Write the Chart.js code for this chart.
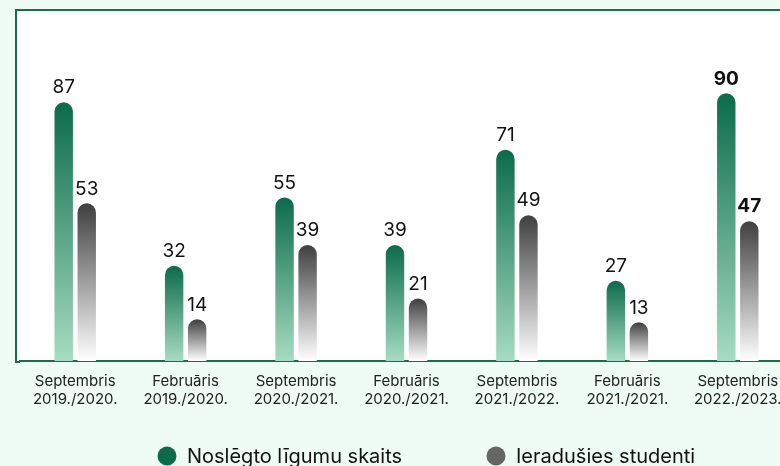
<!DOCTYPE html>
<html>
<head>
<meta charset="utf-8">
<script src="https://cdn.jsdelivr.net/npm/chart.js@4.4.1/dist/chart.umd.min.js"></script>
<style>
  html, body { margin: 0; padding: 0; background: #effcf6; overflow: hidden; }
  #wrap { position: absolute; left: 0; top: 0; width: 800px; height: 466px; }
</style>
</head>
<body>
<div id="wrap"><canvas id="myBarChart"></canvas></div>
<script>
  // data
  var categories = [
    ['Septembris', '2019./2020.'],
    ['Februāris', '2019./2020.'],
    ['Septembris', '2020./2021.'],
    ['Februāris', '2020./2021.'],
    ['Septembris', '2021./2022.'],
    ['Februāris', '2021./2021.'],
    ['Septembris', '2022./2023.']
  ];
  var seriesNames = ['Noslēgto līgumu skaits', 'Ieradušies studenti'];
  var contracts = [87, 32, 55, 39, 71, 27, 90];
  var students = [53, 14, 39, 21, 49, 13, 47];

  var FONT = 'Inter, "Noto Sans", sans-serif';
  var GREEN = '#0b6b4b';
  var GREY = '#666666';

  function barGradient(context, top, bottom) {
    var chart = context.chart;
    var area = chart.chartArea;
    if (!area || context.raw == null) return top;
    var y0 = chart.scales.y.getPixelForValue(context.raw);
    var g = chart.ctx.createLinearGradient(0, y0, 0, area.bottom);
    g.addColorStop(0, top);
    g.addColorStop(1, bottom);
    return g;
  }

  // white panel with green frame on top and left
  var framePlugin = {
    id: 'frame',
    beforeDraw: function (chart) {
      var c = chart.ctx, a = chart.chartArea;
      var left = a.left - 4;
      c.save();
      c.fillStyle = '#ffffff';
      c.fillRect(left, a.top, chart.width - left, a.bottom - a.top);
      c.strokeStyle = '#1b6b4e';
      c.lineWidth = 2;
      c.beginPath();
      c.moveTo(chart.width, a.top);
      c.lineTo(left, a.top);
      c.lineTo(left, a.bottom + 1);
      c.lineTo(a.left, a.bottom + 1);
      c.stroke();
      c.restore();
    }
  };

  // value labels above bars
  var valuePlugin = {
    id: 'values',
    afterDatasetsDraw: function (chart) {
      var c = chart.ctx;
      c.save();
      c.fillStyle = '#111111';
      c.textAlign = 'center';
      c.textBaseline = 'bottom';
      chart.data.datasets.forEach(function (ds, di) {
        chart.getDatasetMeta(di).data.forEach(function (bar, i) {
          var bold = i === ds.data.length - 1;
          c.font = (bold ? '700 ' : '400 ') + '19px ' + FONT;
          c.fillText(String(ds.data[i]), bar.x, bar.y - 5);
        });
      });
      c.restore();
    }
  };

  // legend at the bottom
  var legendPlugin = {
    id: 'bottomLegend',
    afterDraw: function (chart) {
      var c = chart.ctx;
      var items = [
        { x: 167, color: GREEN, text: seriesNames[0] },
        { x: 496, color: GREY, text: seriesNames[1] }
      ];
      var y = 456;
      c.save();
      c.font = '400 20px ' + FONT;
      c.textBaseline = 'middle';
      c.textAlign = 'left';
      items.forEach(function (it) {
        c.fillStyle = it.color;
        c.beginPath();
        c.arc(it.x, y, 9.5, 0, Math.PI * 2);
        c.fill();
        c.fillStyle = '#111111';
        c.fillText(it.text, it.x + 20, y + 1);
      });
      c.restore();
    }
  };

  var ctxBar = document.getElementById('myBarChart').getContext('2d');
  var barChart = new Chart(ctxBar, {
    type: 'bar',
    data: {
      labels: categories,
      datasets: [{
        label: seriesNames[0],
        data: contracts,
        backgroundColor: function (ctx) { return barGradient(ctx, '#0b6b4b', '#a6dcc2'); },
        borderRadius: { topLeft: 10, topRight: 10 },
        borderSkipped: 'bottom',
        categoryPercentage: 0.417,
        barPercentage: 0.8
      }, {
        label: seriesNames[1],
        data: students,
        backgroundColor: function (ctx) { return barGradient(ctx, '#3f3f3f', '#ffffff'); },
        borderRadius: { topLeft: 10, topRight: 10 },
        borderSkipped: 'bottom',
        categoryPercentage: 0.417,
        barPercentage: 0.8
      }]
    },
    options: {
      responsive: true,
      maintainAspectRatio: false,
      animation: false,
      layout: { padding: { top: 10, left: 20, right: 7, bottom: 55 } },
      plugins: {
        legend: { display: false },
        tooltip: { enabled: false }
      },
      scales: {
        x: {
          grid: { display: false },
          border: { display: true, color: '#1b6b4e', width: 2 },
          ticks: {
            color: '#222222',
            font: { family: FONT, size: 15 },
            padding: 3,
            maxRotation: 0,
            autoSkip: false
          }
        },
        y: {
          display: false,
          min: 0,
          max: 118
        }
      }
    },
    plugins: [framePlugin, valuePlugin, legendPlugin]
  });
</script>
</body>
</html>
